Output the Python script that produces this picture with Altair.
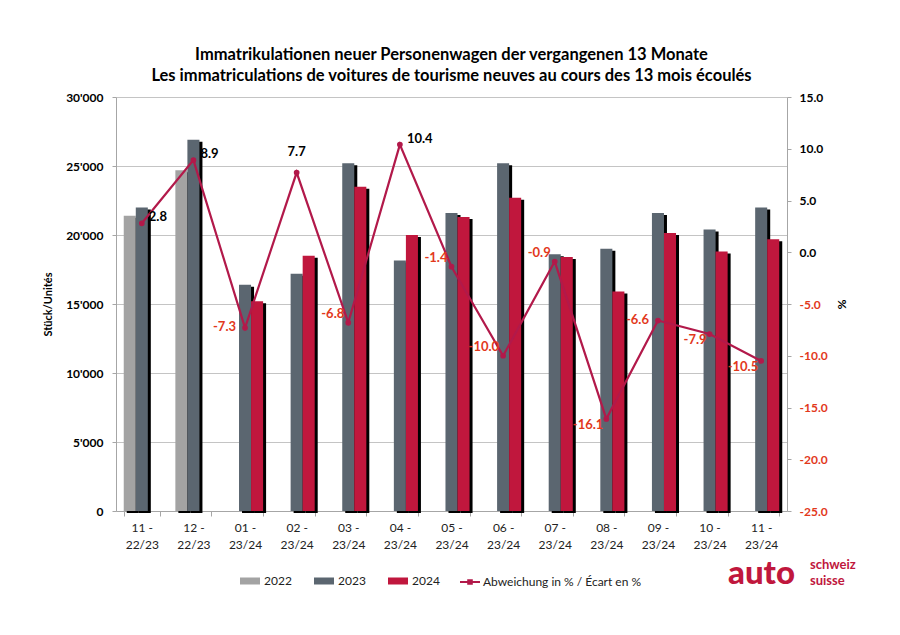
import altair as alt
import pandas as pd

months = ["11 - 22/23", "12 - 22/23", "01 - 23/24", "02 - 23/24", "03 - 23/24",
          "04 - 23/24", "05 - 23/24", "06 - 23/24", "07 - 23/24", "08 - 23/24",
          "09 - 23/24", "10 - 23/24", "11 - 23/24"]
units_2022 = [21400, 24700, None, None, None, None, None, None, None, None, None, None, None]
units_2023 = [22000, 26900, 16400, 17200, 25200, 18150, 21600, 25200, 18600, 19000, 21600, 20400, 22000]
units_2024 = [None, None, 15200, 18500, 23500, 20000, 21300, 22700, 18400, 15900, 20150, 18800, 19700]
pct_change = [2.8, 8.9, -7.3, 7.7, -6.8, 10.4, -1.4, -10.0, -0.9, -16.1, -6.6, -7.9, -10.5]
label_place = ["right", "right", "left_mid", "above", "left_up", "right", "left_up",
               "left_up", "left_up", "left_down", "left_mid", "left_down", "left_down"]

years = ["2022", "2023", "2024"]
bar_colors = ["#a3a3a3", "#5b6670", "#c0173d"]
line_color = "#b2194a"
neg_color = "#e2381c"
series_name = "Abweichung in % / Écart en %"
FONT = "Lato"

rows = []
for yr, vals in zip(years, [units_2022, units_2023, units_2024]):
    for m, v in zip(months, vals):
        if v is not None:
            rows.append({"month": m, "year": yr, "units": v})
bars_df = pd.DataFrame(rows)
pct_df = pd.DataFrame({"month": months, "pct": pct_change, "place": label_place,
                       "series": series_name})

x_enc = alt.X("month:N", sort=months, title=None,
              scale=alt.Scale(paddingInner=0.3, paddingOuter=0.15),
              axis=alt.Axis(labelAngle=0, tickBand="extent", tickSize=5,
                            labelExpr="[slice(datum.label, 0, 4), slice(datum.label, 5)]",
                            labelFontSize=12, labelColor="#222222", labelPadding=6,
                            labelLineHeight=17,
                            domainColor="#a6a6a6", tickColor="#a6a6a6", grid=False))
y_left = alt.Y("units:Q", scale=alt.Scale(domain=[0, 30000], nice=False),
               axis=alt.Axis(values=[0, 5000, 10000, 15000, 20000, 25000, 30000],
                             labelExpr="replace(format(datum.value, ','), ',', \"'\")",
                             title="Stück/Unités", titleFontSize=11, titleFontWeight="bold",
                             titlePadding=12, labelFontSize=12, labelFontWeight="bold",
                             labelColor="black", labelPadding=9, tickSize=4,
                             grid=True, gridColor="#c4c4c4", domainColor="#a6a6a6",
                             tickColor="#a6a6a6"))

# shadow bars: same slots, shifted 3px right
shadow = alt.Chart(bars_df).mark_bar(color="black", yOffset=2, y2Offset=-2).encode(
    x=x_enc,
    xOffset=alt.XOffset("year:N", scale=alt.Scale(domain=years, range=[3, 39.12])),
    y=y_left)

bars = alt.Chart(bars_df).mark_bar().encode(
    x=x_enc,
    xOffset=alt.XOffset("year:N", scale=alt.Scale(domain=years, range=[0, 36.12])),
    y=y_left,
    color=alt.Color("year:N", scale=alt.Scale(domain=years, range=bar_colors),
                    legend=alt.Legend(orient="none", legendX=124, legendY=474,
                                      direction="horizontal", title=None,
                                      symbolType="M-1,-0.35H1V0.35H-1Z", symbolSize=400,
                                      symbolStrokeWidth=0, labelFontSize=12,
                                      labelColor="#222222", columnPadding=22,
                                      labelOffset=4)))

logo_auto = alt.Chart(pd.DataFrame({"t": ["auto"]})).mark_text(
    font=FONT, fontSize=33, fontWeight=900, color="#c0173d", align="left",
    baseline="alphabetic").encode(text="t:N", x=alt.value(612), y=alt.value(487))
logo_sw = alt.Chart(pd.DataFrame({"t": ["schweiz"]})).mark_text(
    font=FONT, fontSize=13, fontWeight="bold", color="#c0173d", align="left",
    baseline="alphabetic").encode(text="t:N", x=alt.value(694), y=alt.value(472))
logo_su = alt.Chart(pd.DataFrame({"t": ["suisse"]})).mark_text(
    font=FONT, fontSize=13, fontWeight="bold", color="#c0173d", align="left",
    baseline="alphabetic").encode(text="t:N", x=alt.value(694), y=alt.value(488))

y_right = alt.Y("pct:Q", scale=alt.Scale(domain=[-25, 15], nice=False),
                axis=alt.Axis(orient="right", values=[-25, -20, -15, -10, -5, 0, 5, 10, 15],
                              labelExpr="replace(format(datum.value, '.1f'), '−', '-')",
                              title="%", titleFontSize=12,
                              titleFontWeight="bold", titleAngle=90, titlePadding=7,
                              labelFontSize=12, labelFontWeight="bold",
                              labelColor=alt.condition("datum.value < 0", alt.value(neg_color),
                                                       alt.value("black")),
                              labelPadding=8, tickSize=4, grid=False,
                              domainColor="#a6a6a6", tickColor="#a6a6a6"))

line = alt.Chart(pct_df).mark_line(
    strokeWidth=2.2, point=alt.OverlayMarkDef(filled=True, size=14, color=line_color)).encode(
    x=x_enc, y=y_right,
    stroke=alt.Stroke("series:N", scale=alt.Scale(range=[line_color]),
                      legend=alt.Legend(orient="none", legendX=343, legendY=474, title=None,
                                        symbolType="M-1,0H1M-0.18,-0.18H0.18V0.18H-0.18Z",
                                        symbolSize=400, symbolStrokeWidth=2,
                                        symbolFillColor=line_color,
                                        labelFontSize=12, labelColor="#222222",
                                        labelOffset=2)))


def labels(place, color, **kw):
    return alt.Chart(pct_df).transform_filter(
        alt.datum.place == place).transform_calculate(
        lbl="replace(format(datum.pct, '.1f'), '−', '-')").mark_text(
        font=FONT, fontSize=13, fontWeight="bold", color=color, **kw).encode(
        x=x_enc, y=y_right, text="lbl:N")


lab_right = labels("right", "black", align="left", dx=7, dy=-6)
lab_above = labels("above", "black", align="center", dy=-21)
lab_lu = labels("left_up", neg_color, align="right", dx=-4, dy=-9)
lab_ld = labels("left_down", neg_color, align="right", dx=-3, dy=6)
lab_lm = labels("left_mid", neg_color, align="right", dx=-9, dy=-1)

left = alt.layer(shadow, bars, logo_auto, logo_sw, logo_su).resolve_scale(xOffset="independent")
right = alt.layer(line, lab_right, lab_above, lab_lu, lab_ld, lab_lm)

chart = alt.layer(left, right).resolve_scale(y="independent").properties(
    width=671, height=414,
    padding={"left": 108, "top": 89, "right": 105, "bottom": 116},
    autosize=alt.AutoSizeParams(type="none"),
    title=alt.TitleParams(
        ["Immatrikulationen neuer Personenwagen der vergangenen 13 Monate",
         "Les immatriculations de voitures de tourisme neuves au cours des 13 mois écoulés"],
        fontSize=16.5, fontWeight="bold", font=FONT, anchor="middle", offset=7,
        lineHeight=21, color="black"),
).configure(font=FONT).configure_view(stroke=None).configure_axis(
    labelFont=FONT, titleFont=FONT).configure_legend(labelFont=FONT)

chart.save("out.html", embed_options={"renderer": "svg", "actions": False})
